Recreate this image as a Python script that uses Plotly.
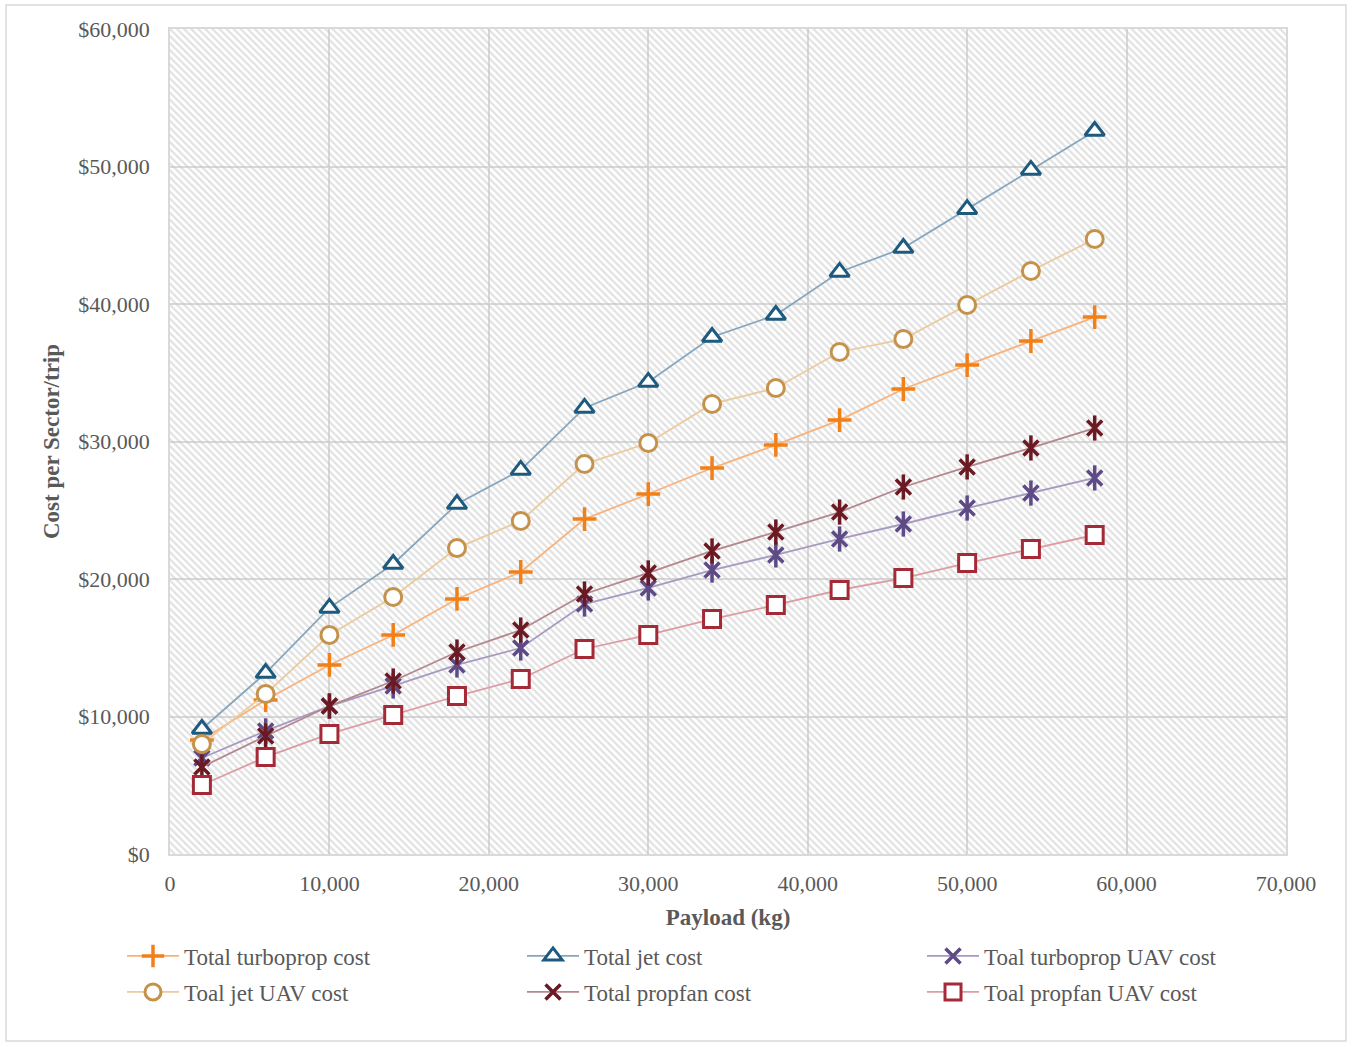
import plotly.graph_objects as go

# Payload values (kg)
payload = [2000, 6000, 10000, 14000, 18000, 22000, 26000, 30000,
           34000, 38000, 42000, 46000, 50000, 54000, 58000]

# Cost per sector/trip ($)
turboprop_cost = [8300, 11200, 13750, 15930, 18550, 20510, 24360, 26180,
                  28070, 29750, 31560, 33820, 35560, 37310, 39050]
jet_cost = [9090, 13160, 17900, 21090, 25450, 27930, 32440, 34330,
            37600, 39200, 42330, 44070, 46900, 49750, 52580]
turboprop_uav_cost = [6980, 8950, 10760, 12220, 13750, 14980, 18180, 19350,
                      20650, 21750, 22910, 24000, 25160, 26250, 27350]
jet_uav_cost = [8000, 11640, 15930, 18690, 22250, 24220, 28360, 29890,
                32730, 33890, 36510, 37450, 39930, 42400, 44730]
propfan_cost = [6330, 8580, 10760, 12580, 14690, 16290, 18910, 20440,
                22040, 23420, 24870, 26690, 28150, 29530, 30980]
propfan_uav_cost = [5020, 7050, 8730, 10110, 11490, 12730, 14910, 15930,
                    17090, 18110, 19200, 20070, 21160, 22180, 23200]

x_ticks = [0, 10000, 20000, 30000, 40000, 50000, 60000, 70000]
x_tick_text = ["0", "10,000", "20,000", "30,000", "40,000", "50,000", "60,000", "70,000"]
y_ticks = [0, 10000, 20000, 30000, 40000, 50000, 60000]
y_tick_text = ["$0", "$10,000", "$20,000", "$30,000", "$40,000", "$50,000", "$60,000"]
x_range = [0, 70000]
y_range = [0, 60000]

FONT = "Liberation Serif"
TEXT = "#595959"
GRID = "#d9d9d9"

fig = go.Figure()

# hatched plot-area background
fig.add_trace(go.Scatter(
    x=[x_range[0], x_range[1], x_range[1], x_range[0], x_range[0]],
    y=[y_range[0], y_range[0], y_range[1], y_range[1], y_range[0]],
    mode="lines", fill="toself", line=dict(width=0),
    fillcolor="rgba(0,0,0,0)",
    fillpattern=dict(shape="\\", fgcolor="#c4c4c4", bgcolor="rgba(0,0,0,0)",
                     size=5, solidity=0.45),
    hoverinfo="skip", showlegend=False))

# name, values, marker colour, line colour, symbol, size, stroke, legend row
series = [
    ("Total turboprop cost", turboprop_cost, "#F28018", "#F9B27A", "cross-thin", 17, 3.5, "legend"),
    ("Total jet cost", jet_cost, "#1D5A7E", "#86A6BE", "triangle-up", 17, 3, "legend"),
    ("Toal turboprop UAV cost", turboprop_uav_cost, "#5D4A86", "#A899C2", "x-thin", 15, 3.5, "legend"),
    ("Toal jet UAV cost", jet_uav_cost, "#C4924A", "#EBCB9E", "circle", 17, 3, "legend2"),
    ("Total propfan cost", propfan_cost, "#6B1A23", "#B4868D", "x-thin", 15, 3.5, "legend2"),
    ("Toal propfan UAV cost", propfan_uav_cost, "#A52A38", "#DC9CA4", "square", 17, 3, "legend2"),
]

for name, ys, mcol, lcol, sym, size, lw, leg in series:
    fig.add_trace(go.Scatter(
        x=payload, y=ys, name=name, mode="lines+markers", legend=leg,
        line=dict(color=lcol, width=1.8),
        marker=dict(symbol=sym, size=size, color="white",
                    line=dict(color=mcol, width=lw))))
    if sym == "x-thin":
        # vertical stroke completes the star marker
        fig.add_trace(go.Scatter(
            x=payload, y=ys, mode="markers", showlegend=False, hoverinfo="skip",
            marker=dict(symbol="line-ns", size=size + 3,
                        line=dict(color=mcol, width=lw))))

legend_common = dict(orientation="h", xanchor="left", yanchor="middle",
                     entrywidth=333, entrywidthmode="pixels", itemwidth=52,
                     bgcolor="rgba(0,0,0,0)",
                     font=dict(family=FONT, size=23, color=TEXT))

fig.update_layout(
    width=1352, height=1042,
    margin=dict(l=170, r=66, t=29, b=188),
    paper_bgcolor="white", plot_bgcolor="white",
    font=dict(family=FONT, color=TEXT, size=22),
    showlegend=True,
    legend=dict(x=-0.043, y=(854 - 956) / 825, **legend_common),
    legend2=dict(x=-0.043, y=(854 - 992) / 825, **legend_common),
    xaxis=dict(range=x_range, tickvals=x_ticks, ticktext=x_tick_text,
               showgrid=True, gridcolor=GRID, gridwidth=1.5,
               showline=True, linecolor=GRID, linewidth=1.5, mirror=True,
               zeroline=False, ticks="", ticklabelstandoff=9,
               tickfont=dict(family=FONT, size=22, color=TEXT),
               title=dict(text="<b>Payload (kg)</b>", standoff=14,
                          font=dict(family=FONT, size=23, color=TEXT))),
    yaxis=dict(range=y_range, tickvals=y_ticks, ticktext=y_tick_text,
               showgrid=True, gridcolor=GRID, gridwidth=1.5,
               showline=True, linecolor=GRID, linewidth=1.5, mirror=True,
               zeroline=False, ticks="", ticklabelstandoff=14,
               tickfont=dict(family=FONT, size=22, color=TEXT),
               title=dict(text="<b>Cost per Sector/trip</b>", standoff=12,
                          font=dict(family=FONT, size=23, color=TEXT))),
    shapes=[dict(type="rect", xref="paper", yref="paper",
                 x0=(6 - 170) / 1116, x1=(1346 - 170) / 1116,
                 y0=(854 - 1041) / 825, y1=(854 - 5) / 825,
                 line=dict(color=GRID, width=1.5), layer="below")],
)

fig.write_html("out.html")
